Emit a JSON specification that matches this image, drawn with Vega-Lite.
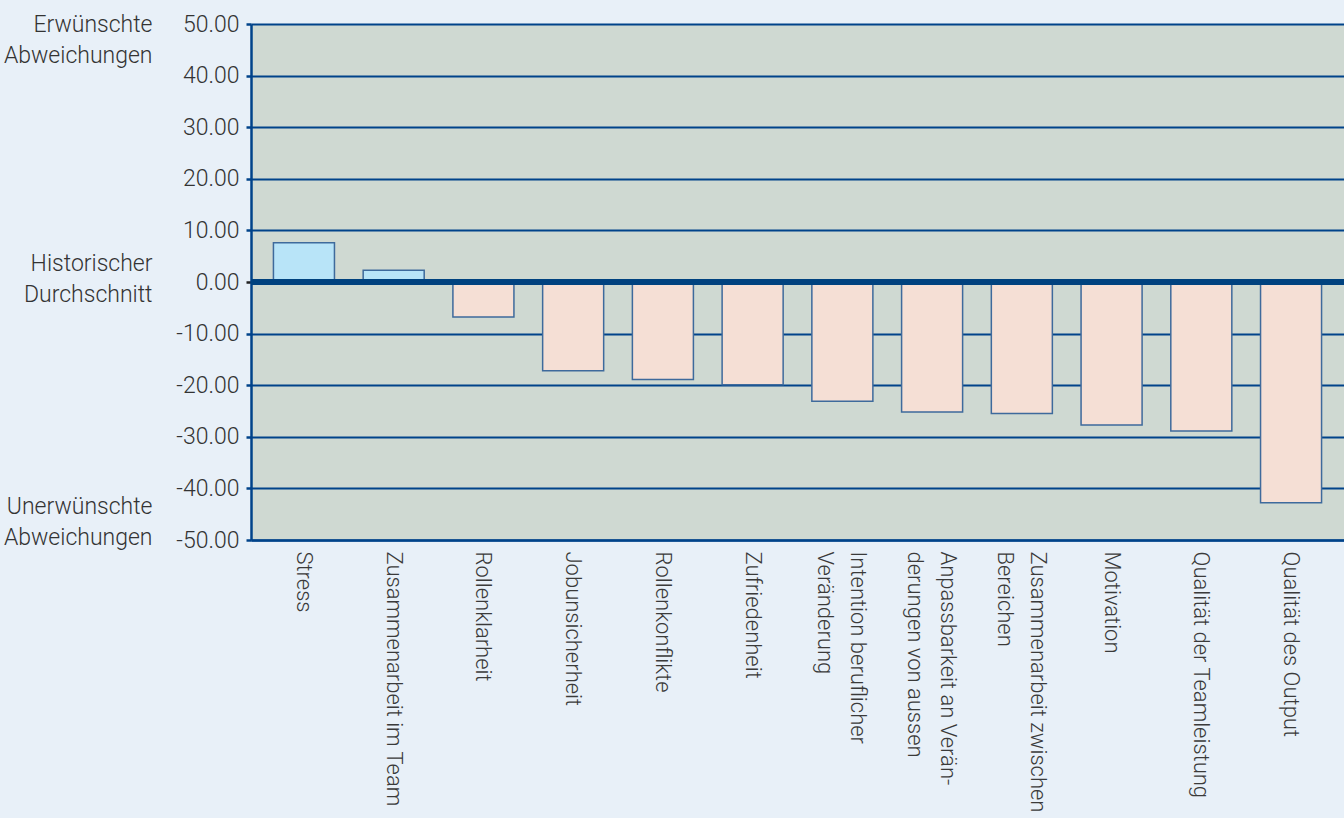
{
  "$schema": "https://vega.github.io/schema/vega-lite/v6.json",
  "width": 1093,
  "height": 516,
  "autosize": "none",
  "padding": {"left": 251, "top": 24, "right": 0, "bottom": 278},
  "background": "#E8F0F8",
  "config": {
    "view": {"stroke": null, "fill": "#CFD9D2"},
    "font": "Roboto",
    "axis": {"labelFont": "Roboto", "labelFontWeight": 300, "labelColor": "#333333"}
  },
  "data": {
    "values": [
      {"dimension": "Stress", "wert": 7.6},
      {"dimension": "Zusammenarbeit im Team", "wert": 2.3},
      {"dimension": "Rollenklarheit", "wert": -6.8},
      {"dimension": "Jobunsicherheit", "wert": -17.2},
      {"dimension": "Rollenkonflikte", "wert": -18.9},
      {"dimension": "Zufriedenheit", "wert": -19.9},
      {"dimension": "Intention beruflicher|Veränderung", "wert": -23.1},
      {"dimension": "Anpassbarkeit an Verän-|derungen von aussen", "wert": -25.2},
      {"dimension": "Zusammenarbeit zwischen|Bereichen", "wert": -25.5},
      {"dimension": "Motivation", "wert": -27.7},
      {"dimension": "Qualität der Teamleistung", "wert": -28.9},
      {"dimension": "Qualität des Output", "wert": -42.8}
    ]
  },
  "resolve": {"axis": {"y": "independent"}},
  "layer": [
    {
      "mark": {"type": "bar", "strokeWidth": 1.5, "stroke": "#3E6A9C"},
      "encoding": {
        "x": {
          "field": "dimension",
          "type": "nominal",
          "sort": null,
          "scale": {"paddingInner": 0.32, "paddingOuter": 0.25},
          "axis": {
            "title": null,
            "labelAngle": 90,
            "labelAlign": "left",
            "labelBaseline": "middle",
            "labelFontSize": 22,
            "labelLineHeight": 33,
            "labelPadding": 11,
            "labelLimit": 400,
            "labelColor": "#3A3A3A",
            "labelExpr": "split(datum.label, '|')",
            "labelOffset": {"condition": {"test": "indexof(datum.value, '|') >= 0", "value": 16}, "value": 0},
            "ticks": false,
            "domainColor": "#00438A",
            "domainWidth": 2.5
          }
        },
        "y": {
          "field": "wert",
          "type": "quantitative",
          "scale": {"domain": [-50, 50], "nice": false},
          "axis": {
            "title": null,
            "values": [50, 40, 30, 20, 10, 0, -10, -20, -30, -40, -50],
            "labelExpr": "replace(format(datum.value, '.2f'), '\u2212', '-')",
            "labelFontSize": 23,
            "labelPadding": 7,
            "tickSize": 5,
            "tickWidth": 2.5,
            "tickColor": {"condition": {"test": "datum.value === 0", "value": "#222222"}, "value": "#00438A"},
            "domainColor": "#00438A",
            "domainWidth": 2.5,
            "grid": true,
            "gridColor": "#00438A",
            "gridWidth": 2,
            "gridOpacity": 1
          }
        },
        "fill": {
          "condition": {"test": "datum.wert > 0", "value": "#B8E4F8"},
          "value": "#F5DFD5"
        }
      }
    },
    {
      "mark": {"type": "rule", "color": "#00427F", "strokeWidth": 6},
      "encoding": {
        "y": {
          "datum": 0,
          "type": "quantitative",
          "axis": {
            "orient": "left",
            "title": null,
            "values": [50, 3.6, -43.5],
            "labelExpr": "datum.value > 20 ? ['Erwünschte', 'Abweichungen'] : datum.value < -20 ? ['Unerwünschte', 'Abweichungen'] : ['Historischer', 'Durchschnitt']",
            "labelFontSize": 23,
            "labelLineHeight": 31,
            "labelPadding": 99,
            "labelAlign": "right",
            "labelBaseline": "middle",
            "ticks": false,
            "domain": false,
            "grid": false,
            "tickSize": 0
          }
        }
      }
    }
  ]
}
